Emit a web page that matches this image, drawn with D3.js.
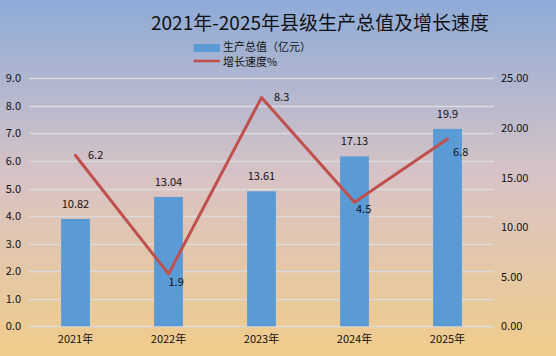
<!DOCTYPE html>
<html>
<head>
<meta charset="utf-8">
<script src="https://cdn.jsdelivr.net/npm/d3@7"></script>
<style>
html,body{margin:0;padding:0;}
body{width:556px;height:356px;overflow:hidden;}
text{font-family:"Noto Sans CJK SC","Noto Sans",sans-serif;}
</style>
</head>
<body>
<svg id="chart" width="556" height="356"></svg>
<script>
// ---- data ----
const categories = ["2021年", "2022年", "2023年", "2024年", "2025年"];
const gdpValues = [10.82, 13.04, 13.61, 17.13, 19.9];
const gdpLabels = ["10.82", "13.04", "13.61", "17.13", "19.9"];
const growthValues = [6.2, 1.9, 8.3, 4.5, 6.8];
const growthLabels = ["6.2", "1.9", "8.3", "4.5", "6.8"];
const leftTicks = [0, 1, 2, 3, 4, 5, 6, 7, 8, 9];
const rightTicks = [0, 5, 10, 15, 20, 25];
const titleText = "2021年-2025年县级生产总值及增长速度";
const seriesNames = ["生产总值（亿元）", "增长速度%"];

// ---- layout / style ----
const W = 556, H = 356;
const plot = {left: 29, right: 494, top: 78.3, bottom: 326.3};
const barColor = "#5b9bd5", lineColor = "#c0504d", gridColor = "#dcdcdc", textColor = "#111";
const growthLabelOffsets = [[12.5, 0], [0, 8.5], [12.5, 0], [1.5, 7], [5.5, 13]];

const svg = d3.select("#chart");
const defs = svg.append("defs");
const grad = defs.append("linearGradient").attr("id", "bg").attr("x1", 0).attr("y1", 0).attr("x2", 0).attr("y2", 1);
grad.append("stop").attr("offset", "0%").attr("stop-color", "#8eabd8");
grad.append("stop").attr("offset", "50%").attr("stop-color", "#d8c3c5");
grad.append("stop").attr("offset", "100%").attr("stop-color", "#f1cc8a");
svg.append("rect").attr("width", W).attr("height", H).attr("fill", "url(#bg)");

const x = d3.scaleBand().domain(categories).range([plot.left, plot.right]).padding(0);
const yL = d3.scaleLinear().domain([0, 9]).range([plot.bottom, plot.top]);
const yR = d3.scaleLinear().domain([0, 25]).range([plot.bottom, plot.top]);

// grid
svg.append("g").selectAll("line").data(leftTicks).join("line")
  .attr("x1", plot.left).attr("x2", plot.right)
  .attr("y1", d => Math.round(yL(d)) + 0.5).attr("y2", d => Math.round(yL(d)) + 0.5)
  .attr("stroke", gridColor).attr("stroke-width", 1.3);

// left axis
const axL = d3.axisLeft(yL).tickValues(leftTicks).tickFormat(d3.format(".1f")).tickSize(0).tickPadding(0);
const gL = svg.append("g").attr("transform", "translate(21,0)").call(axL);
gL.select(".domain").remove();
gL.selectAll("text").attr("font-size", 11).attr("fill", textColor).attr("font-family", '"Noto Sans CJK SC","Noto Sans",sans-serif');

// right axis
const axR = d3.axisRight(yR).tickValues(rightTicks).tickFormat(d3.format(".2f")).tickSize(0).tickPadding(0);
const gR = svg.append("g").attr("transform", "translate(501,0)").call(axR);
gR.select(".domain").remove();
gR.selectAll("text").attr("font-size", 11).attr("fill", textColor).attr("font-family", '"Noto Sans CJK SC","Noto Sans",sans-serif');

// bottom axis
const axB = d3.axisBottom(x).tickSize(0).tickPadding(0);
const gB = svg.append("g").attr("transform", "translate(0,335)").call(axB);
gB.select(".domain").remove();
gB.selectAll("text").attr("font-size", 11).attr("fill", textColor).attr("font-family", '"Noto Sans CJK SC","Noto Sans",sans-serif');

// bars
const bw = x.bandwidth() * 0.31;
svg.append("g").selectAll("rect").data(gdpValues).join("rect")
  .attr("x", (d, i) => x(categories[i]) + x.bandwidth() / 2 - bw / 2)
  .attr("width", bw)
  .attr("y", d => yR(d))
  .attr("height", d => plot.bottom - yR(d))
  .attr("fill", barColor);

// bar labels
svg.append("g").selectAll("text").data(gdpValues).join("text")
  .attr("x", (d, i) => x(categories[i]) + x.bandwidth() / 2)
  .attr("y", d => yR(d) - 11)
  .attr("text-anchor", "middle").attr("font-size", 11).attr("fill", textColor)
  .text((d, i) => gdpLabels[i]);

// line
const line = d3.line().x((d, i) => x(categories[i]) + x.bandwidth() / 2).y(d => yL(d));
svg.append("path").datum(growthValues).attr("d", line)
  .attr("fill", "none").attr("stroke", lineColor).attr("stroke-width", 3)
  .attr("stroke-linejoin", "round").attr("stroke-linecap", "round");

// line labels
svg.append("g").selectAll("text").data(growthValues).join("text")
  .attr("x", (d, i) => x(categories[i]) + x.bandwidth() / 2 + growthLabelOffsets[i][0])
  .attr("y", (d, i) => yL(d) + growthLabelOffsets[i][1])
  .attr("dy", "0.35em")
  .attr("font-size", 11).attr("fill", textColor)
  .text((d, i) => growthLabels[i]);

// title
svg.append("text").attr("x", 320).attr("y", 30).attr("text-anchor", "middle")
  .attr("font-size", 19).attr("fill", "#111").text(titleText);

// legend
svg.append("rect").attr("x", 193.5).attr("y", 44).attr("width", 26.5).attr("height", 8).attr("fill", barColor);
svg.append("line").attr("x1", 193.5).attr("x2", 220).attr("y1", 61).attr("y2", 61)
  .attr("stroke", lineColor).attr("stroke-width", 2.6);
svg.append("text").attr("x", 223).attr("y", 47).attr("dy", "0.35em").attr("font-size", 11).attr("fill", textColor).text(seriesNames[0]);
svg.append("text").attr("x", 223).attr("y", 62.5).attr("dy", "0.35em").attr("font-size", 11).attr("fill", textColor).text(seriesNames[1]);
</script>
</body>
</html>
